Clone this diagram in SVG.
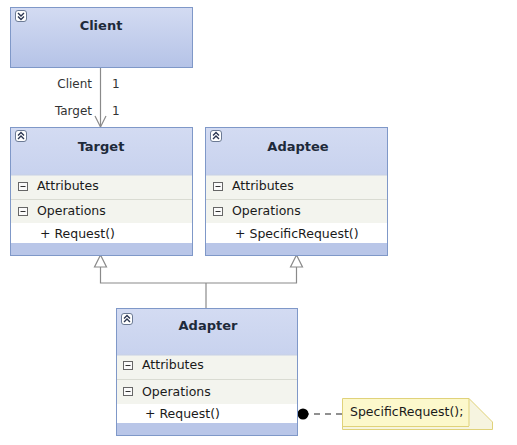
<svg xmlns="http://www.w3.org/2000/svg" width="517" height="445" viewBox="0 0 517 445">
<defs>
<linearGradient id="hdr" x1="0" y1="0" x2="0" y2="1">
<stop offset="0" stop-color="#d3dbf2"/>
<stop offset="1" stop-color="#b5c3e7"/>
</linearGradient>
<style>
.box{fill:url(#hdr);stroke:#7f98c8;stroke-width:1}
.row{fill:#f3f4ee}
.mem{fill:#ffffff}
.band{fill:#b9c6e8}
.div{stroke:#d9dbd2;stroke-width:1}
.title{font-family:"DejaVu Sans",sans-serif;font-size:13px;font-weight:bold;fill:#1e2a3a;text-anchor:middle}
.t{font-family:"DejaVu Sans",sans-serif;font-size:12.5px;fill:#1a1a1a}
.lbl{font-family:"DejaVu Sans",sans-serif;font-size:12px;fill:#333}
.ico{fill:#fff;stroke:#6b7a94;stroke-width:1}
.chev{fill:none;stroke:#2a3550;stroke-width:1.4}
.mn{fill:#fafafa;stroke:#666;stroke-width:1}
.line{fill:none;stroke:#8a8a8a;stroke-width:1.2}
</style>
</defs>

<g id="connectors">
<line class="line" x1="100.5" y1="67" x2="100.5" y2="127"/>
<polyline class="line" points="95,116 100.5,127 106,116"/>
<polyline class="line" points="100.5,266 100.5,283 296.5,283 296.5,266"/>
<line class="line" x1="206" y1="283" x2="206" y2="308"/>
<polygon points="100.5,255 94.5,267 106.5,267" fill="#fff" stroke="#8a8a8a" stroke-width="1.2"/>
<polygon points="296.5,255 290.5,267 302.5,267" fill="#fff" stroke="#8a8a8a" stroke-width="1.2"/>
<text class="lbl" x="92" y="88" text-anchor="end">Client</text>
<text class="lbl" x="112" y="88">1</text>
<text class="lbl" x="92" y="115" text-anchor="end">Target</text>
<text class="lbl" x="112" y="115">1</text>
<line x1="303" y1="414" x2="342" y2="414" stroke="#222" stroke-width="1.2" stroke-dasharray="6,5"/>
<circle cx="303" cy="414" r="5.5" fill="#000"/>
</g>

<g id="client">
<rect class="box" x="10.5" y="7.5" width="182" height="60"/>
<rect class="ico" x="15.5" y="10.5" width="11" height="11" rx="2.5"/>
<polyline class="chev" points="18,13 21,16 24,13"/>
<polyline class="chev" points="18,16.5 21,19.5 24,16.5"/>
<text class="title" x="101" y="30">Client</text>
</g>

<g id="target">
<rect class="box" x="10.5" y="127.5" width="182" height="128"/>
<rect class="row" x="11" y="175" width="181" height="48"/>
<rect class="mem" x="11" y="223" width="181" height="20"/>
<rect class="band" x="11" y="243" width="181" height="12"/>
<line class="div" x1="11" y1="199.5" x2="192" y2="199.5"/>
<line x1="11" y1="175" x2="192" y2="175" stroke="#c8d0e4" stroke-width="1"/>
<rect class="ico" x="15.5" y="130.5" width="11" height="11" rx="2.5"/>
<polyline class="chev" points="18,135.5 21,132.5 24,135.5"/>
<polyline class="chev" points="18,139 21,136 24,139"/>
<text class="title" x="101" y="151">Target</text>
<rect class="mn" x="18.5" y="182.5" width="9" height="8"/>
<line x1="20.5" y1="186.5" x2="25.5" y2="186.5" stroke="#333"/>
<text class="t" x="37" y="190">Attributes</text>
<rect class="mn" x="18.5" y="207.5" width="9" height="8"/>
<line x1="20.5" y1="211.5" x2="25.5" y2="211.5" stroke="#333"/>
<text class="t" x="37" y="215">Operations</text>
<text class="t" x="40" y="238">+ Request()</text>
</g>

<g id="adaptee">
<rect class="box" x="205.5" y="127.5" width="182" height="128"/>
<rect class="row" x="206" y="175" width="181" height="48"/>
<rect class="mem" x="206" y="223" width="181" height="20"/>
<rect class="band" x="206" y="243" width="181" height="12"/>
<line class="div" x1="206" y1="199.5" x2="387" y2="199.5"/>
<line x1="206" y1="175" x2="387" y2="175" stroke="#c8d0e4" stroke-width="1"/>
<rect class="ico" x="210.5" y="130.5" width="11" height="11" rx="2.5"/>
<polyline class="chev" points="213,135.5 216,132.5 219,135.5"/>
<polyline class="chev" points="213,139 216,136 219,139"/>
<text class="title" x="298" y="151">Adaptee</text>
<rect class="mn" x="213.5" y="182.5" width="9" height="8"/>
<line x1="215.5" y1="186.5" x2="220.5" y2="186.5" stroke="#333"/>
<text class="t" x="232" y="190">Attributes</text>
<rect class="mn" x="213.5" y="207.5" width="9" height="8"/>
<line x1="215.5" y1="211.5" x2="220.5" y2="211.5" stroke="#333"/>
<text class="t" x="232" y="215">Operations</text>
<text class="t" x="235" y="238">+ SpecificRequest()</text>
</g>

<g id="adapter">
<rect class="box" x="116.5" y="308.5" width="181" height="127"/>
<rect class="row" x="117" y="355" width="180" height="49"/>
<rect class="mem" x="117" y="404" width="180" height="19"/>
<rect class="band" x="117" y="423" width="180" height="12"/>
<line class="div" x1="117" y1="379.5" x2="297" y2="379.5"/>
<line x1="117" y1="355" x2="297" y2="355" stroke="#c8d0e4" stroke-width="1"/>
<rect class="ico" x="121.5" y="313.5" width="11" height="11" rx="2.5"/>
<polyline class="chev" points="124,318.5 127,315.5 130,318.5"/>
<polyline class="chev" points="124,322 127,319 130,322"/>
<text class="title" x="208" y="330">Adapter</text>
<rect class="mn" x="123.5" y="361.5" width="9" height="8"/>
<line x1="125.5" y1="365.5" x2="130.5" y2="365.5" stroke="#333"/>
<text class="t" x="142" y="369">Attributes</text>
<rect class="mn" x="123.5" y="387.5" width="9" height="8"/>
<line x1="125.5" y1="391.5" x2="130.5" y2="391.5" stroke="#333"/>
<text class="t" x="142" y="396">Operations</text>
<text class="t" x="145" y="418">+ Request()</text>
</g>

<g id="note">
<polygon points="342.5,398.5 469,398.5 492.5,422 492.5,429.5 342.5,429.5" fill="#f6f4e0" stroke="#e0d27a" stroke-width="1"/>
<rect x="343" y="399" width="126" height="27" fill="#fcf8cc"/>
<line x1="469" y1="398.5" x2="469" y2="426" stroke="#e0d27a"/>
<line x1="343" y1="426.5" x2="469" y2="426.5" stroke="#e0d27a"/>
<text class="t" x="350" y="416">SpecificRequest();</text>
</g>
</svg>
